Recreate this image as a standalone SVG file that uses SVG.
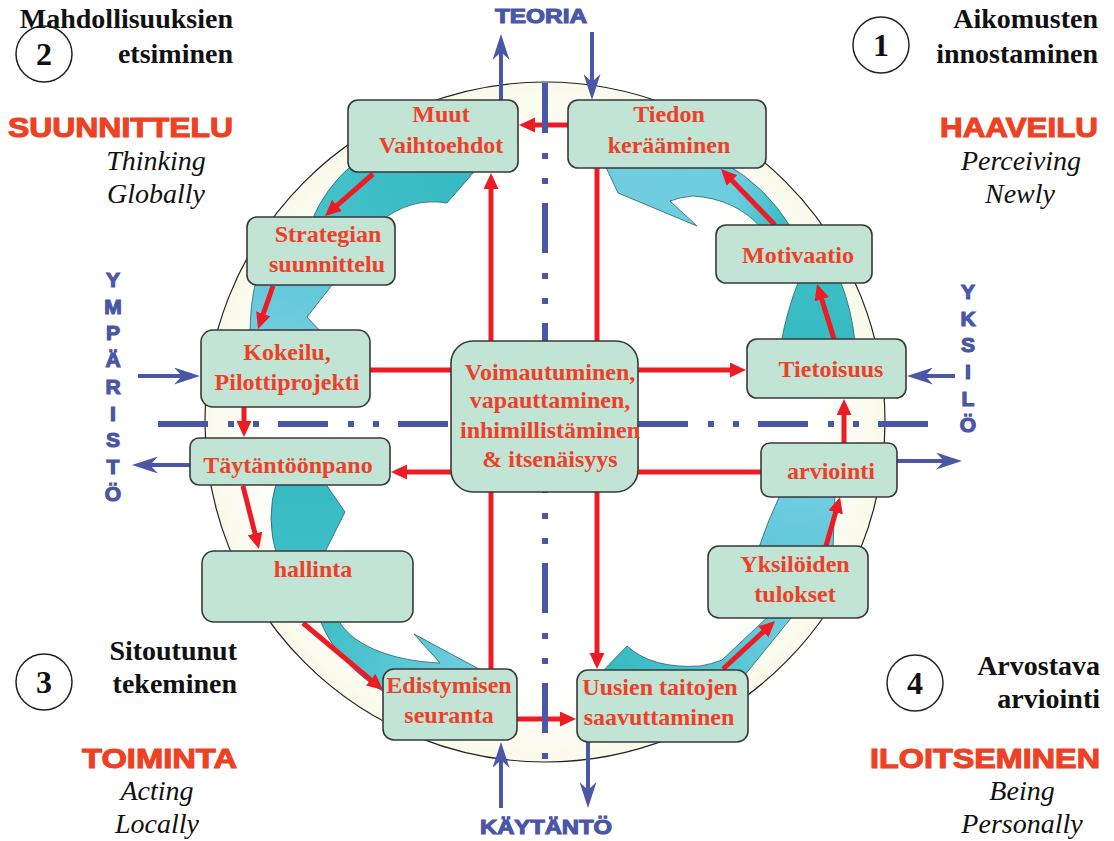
<svg xmlns="http://www.w3.org/2000/svg" width="1114" height="841" viewBox="0 0 1114 841">
<defs>
<radialGradient id="ring" cx="545" cy="422" r="340" gradientUnits="userSpaceOnUse">
<stop offset="0" stop-color="#ffffff"/><stop offset="0.8" stop-color="#ffffff"/><stop offset="1" stop-color="#fafaea"/>
</radialGradient>
<linearGradient id="gA1" gradientUnits="userSpaceOnUse" x1="460" y1="170" x2="320" y2="220"><stop offset="0" stop-color="#34bac1"/><stop offset="1" stop-color="#45c2cb"/></linearGradient>
<linearGradient id="gA2" gradientUnits="userSpaceOnUse" x1="290" y1="285" x2="280" y2="330"><stop offset="0" stop-color="#62c8da"/><stop offset="1" stop-color="#70cde0"/></linearGradient>
<linearGradient id="gB" gradientUnits="userSpaceOnUse" x1="300" y1="485" x2="300" y2="551"><stop offset="0" stop-color="#36bbc2"/><stop offset="1" stop-color="#3ebfc7"/></linearGradient>
<linearGradient id="gC" gradientUnits="userSpaceOnUse" x1="325" y1="622" x2="470" y2="672"><stop offset="0" stop-color="#3fbfc8"/><stop offset="1" stop-color="#70cde0"/></linearGradient>
<linearGradient id="gD1" gradientUnits="userSpaceOnUse" x1="610" y1="668" x2="790" y2="615"><stop offset="0" stop-color="#36bbc2"/><stop offset="1" stop-color="#6ccde0"/></linearGradient>
<linearGradient id="gD2" gradientUnits="userSpaceOnUse" x1="800" y1="546" x2="810" y2="497"><stop offset="0" stop-color="#62c8da"/><stop offset="1" stop-color="#70cde0"/></linearGradient>
<linearGradient id="gE1" gradientUnits="userSpaceOnUse" x1="815" y1="339" x2="815" y2="283"><stop offset="0" stop-color="#36bbc2"/><stop offset="1" stop-color="#3cbec6"/></linearGradient>
<linearGradient id="gE2" gradientUnits="userSpaceOnUse" x1="780" y1="225" x2="640" y2="175"><stop offset="0" stop-color="#3cbec6"/><stop offset="0.35" stop-color="#6ccde0"/><stop offset="1" stop-color="#70cde0"/></linearGradient>
<marker id="rh" markerUnits="userSpaceOnUse" markerWidth="16" markerHeight="16" refX="6" refY="7.5" orient="auto"><path d="M0,0 L16,7.5 L0,15 z" fill="#ed1c24"/></marker>
<marker id="bh" markerUnits="userSpaceOnUse" markerWidth="26" markerHeight="17" refX="12" refY="8.5" orient="auto"><path d="M0,0 L26,8.5 L0,17 L8,8.5 z" fill="#4a56a6"/></marker>
<style>
.box{fill:#c1e4d4;stroke:#383838;stroke-width:1.6}
.bt{font-family:'Liberation Serif','Times New Roman',serif;font-weight:bold;font-size:24px;fill:#ee4028;text-anchor:middle}
.red{fill:none;stroke:#ed1c24;stroke-width:5;marker-end:url(#rh)}
.blue{fill:none;stroke:#4a56a6;stroke-width:4;marker-end:url(#bh)}
.dd{fill:none;stroke:#4a56a6;stroke-width:6;stroke-dasharray:50 20 6 19 6 19}
.cy{stroke:#2d5f66;stroke-width:0.8}
.blk{font-family:'Liberation Serif','Times New Roman',serif;font-weight:bold;font-size:28px;fill:#111;text-anchor:end}
.hd{font-family:'Liberation Sans',Arial,sans-serif;font-weight:bold;font-size:28px;fill:#ee4123;stroke:#ee4123;stroke-width:1.1}
.it{font-family:'Liberation Serif','Times New Roman',serif;font-style:italic;font-size:28px;fill:#111;text-anchor:middle}
.lab{font-family:'Liberation Sans',Arial,sans-serif;font-weight:bold;font-size:20px;fill:#4a56a6;stroke:#4a56a6;stroke-width:1.1}
.vl{font-family:'Liberation Sans',Arial,sans-serif;font-weight:bold;font-size:21px;fill:#4a56a6;stroke:#4a56a6;stroke-width:1.2;text-anchor:middle}
.nc{fill:#fff;stroke:#222;stroke-width:1.5}
.num{font-family:'Liberation Serif','Times New Roman',serif;font-weight:bold;font-size:32px;fill:#111;text-anchor:middle}
</style>
</defs>
<rect width="1114" height="841" fill="#ffffff"/>

<g id="ring-circle">
<circle cx="545" cy="422" r="340" fill="url(#ring)" stroke="#222" stroke-width="1.2"/>
</g>

<g id="cycle-arrows">
<path class="cy" fill="url(#gA1)" d="M352,165 L480,165 L447,203 Q410,197 380,222 L311,222 Q325,188 352,165 Z"/>
<path class="cy" fill="url(#gA2)" d="M256,280 L336,280 L307,317 L324,335 L250,335 Q250,305 256,280 Z"/>
<path class="cy" fill="url(#gB)" d="M277,480 L323,480 L345,512 L323,556 L277,556 Q265,518 277,480 Z"/>
<path class="cy" fill="url(#gC)" d="M318,615 L336,615 C348,645 392,661 440,663 L414,634 L492,676 L384,692 C352,672 330,648 318,615 Z"/>
<path class="cy" fill="url(#gD1)" d="M598,676 L627,646 Q652,669 700,666 Q712,664 722,660 L773,612 L796,612 L744,676 Z"/>
<path class="cy" fill="url(#gD2)" d="M758,550 Q768,520 781,493 L835,493 Q834,520 833,550 Z"/>
<path class="cy" fill="url(#gE1)" d="M781,343 Q787,310 799,280 L840,280 Q852,310 855,343 Z"/>
<path class="cy" fill="url(#gE2)" d="M604,163 L724,163 Q765,185 792,229 L762,229 Q737,199 693,196 Q680,197 670,201 L697,226 L618,193 Z"/>
</g>

<g id="connectors">
<path class="red" d="M568,125 L529,125"/>
<path class="red" d="M373,174 L332.5,209.4"/>
<path class="red" d="M273,286 L261.3,319.5"/>
<path class="red" d="M244,407 L244,427"/>
<path class="red" d="M243,486 L256.5,539.3"/>
<path class="red" d="M303,623 L375.3,683.6"/>
<path class="red" d="M517,719 L566,719"/>
<path class="red" d="M723,669 L767.7,627.8"/>
<path class="red" d="M826,546 L837.3,506.6"/>
<path class="red" d="M844,443 L844,409"/>
<path class="red" d="M834,339 L820,293.6"/>
<path class="red" d="M775,225 L727.9,176.2"/>
<path class="red" d="M370,370 L736,370"/>
<path class="red" d="M761,472 L401,472"/>
<path class="red" d="M491,669 L491,183"/>
<path class="red" d="M597,168 L597,659"/>
<path class="dd" d="M545,83 L545,759"/>
<path class="dd" d="M158,424 L928,424"/>
<path class="blue" d="M501,100 L501,48"/>
<path class="blue" d="M592,32 L592,86"/>
<path class="blue" d="M138,376 L186,376"/>
<path class="blue" d="M190,465 L146,465"/>
<path class="blue" d="M955,376 L921,376"/>
<path class="blue" d="M897,461 L948,461"/>
<path class="blue" d="M501,808 L501,756"/>
<path class="blue" d="M588,742 L588,794"/>
</g>

<g id="n-muut"><rect class="box" x="348" y="100" width="170" height="72" rx="10"/><text class="bt" x="441" y="122">Muut</text><text class="bt" x="441" y="153">Vaihtoehdot</text></g>
<g id="n-tiedon"><rect class="box" x="568" y="100" width="198" height="68" rx="10"/><text class="bt" x="669" y="122">Tiedon</text><text class="bt" x="669" y="153">kerääminen</text></g>
<g id="n-strategian"><rect class="box" x="247" y="217" width="148" height="68" rx="10"/><text class="bt" x="328" y="242">Strategian</text><text class="bt" x="327" y="272">suunnittelu</text></g>
<g id="n-motivaatio"><rect class="box" x="716" y="225" width="156" height="58" rx="10"/><text class="bt" x="798" y="263">Motivaatio</text></g>
<g id="n-kokeilu"><rect class="box" x="201" y="330" width="169" height="77" rx="12"/><text class="bt" x="287" y="360">Kokeilu,</text><text class="bt" x="287" y="390">Pilottiprojekti</text></g>
<g id="n-tietoisuus"><rect class="box" x="747" y="339" width="159" height="59" rx="10"/><text class="bt" x="831" y="377">Tietoisuus</text></g>
<g id="n-center"><rect class="box" x="451" y="341" width="187" height="151" rx="22"/><text class="bt" x="550" y="380">Voimautuminen,</text><text class="bt" x="550" y="408">vapauttaminen,</text><text class="bt" x="550" y="438">inhimillistäminen</text><text class="bt" x="550" y="467">&amp; itsenäisyys</text></g>
<g id="n-taytantoonpano"><rect class="box" x="190" y="438" width="200" height="47" rx="9"/><text class="bt" x="288" y="473">Täytäntöönpano</text></g>
<g id="n-arviointi"><rect class="box" x="761" y="443" width="136" height="54" rx="9"/><text class="bt" x="831" y="479">arviointi</text></g>
<g id="n-hallinta"><rect class="box" x="202" y="551" width="211" height="71" rx="12"/><text class="bt" x="313" y="577">hallinta</text></g>
<g id="n-yksiloiden"><rect class="box" x="708" y="546" width="160" height="72" rx="11"/><text class="bt" x="795" y="572">Yksilöiden</text><text class="bt" x="795" y="602">tulokset</text></g>
<g id="n-edistymisen"><rect class="box" x="383" y="669" width="134" height="71" rx="11"/><text class="bt" x="449" y="693">Edistymisen</text><text class="bt" x="449" y="723">seuranta</text></g>
<g id="n-uusien"><rect class="box" x="577" y="670" width="171" height="72" rx="11"/><text class="bt" x="660" y="695">Uusien taitojen</text><text class="bt" x="659" y="725">saavuttaminen</text></g>

<g id="q2">
<circle class="nc" cx="44" cy="54" r="28"/><text class="num" x="44" y="65">2</text>
<text class="blk" x="233" y="28">Mahdollisuuksien</text><text class="blk" x="233" y="63">etsiminen</text>
<text class="hd" x="8" y="137" textLength="225" lengthAdjust="spacingAndGlyphs">SUUNNITTELU</text>
<text class="it" x="156" y="170">Thinking</text><text class="it" x="156" y="203">Globally</text>
</g>
<g id="q1">
<circle class="nc" cx="881" cy="45" r="28"/><text class="num" x="881" y="56">1</text>
<text class="blk" x="1098" y="28">Aikomusten</text><text class="blk" x="1098" y="63">innostaminen</text>
<text class="hd" x="940" y="137" textLength="158" lengthAdjust="spacingAndGlyphs">HAAVEILU</text>
<text class="it" x="1021" y="170">Perceiving</text><text class="it" x="1020" y="203">Newly</text>
</g>
<g id="q3">
<circle class="nc" cx="44" cy="682" r="28"/><text class="num" x="44" y="693">3</text>
<text class="blk" x="237" y="660">Sitoutunut</text><text class="blk" x="237" y="693">tekeminen</text>
<text class="hd" x="82" y="768" textLength="155" lengthAdjust="spacingAndGlyphs">TOIMINTA</text>
<text class="it" x="157" y="800">Acting</text><text class="it" x="157" y="833">Locally</text>
</g>
<g id="q4">
<circle class="nc" cx="915" cy="683" r="28"/><text class="num" x="915" y="694">4</text>
<text class="blk" x="1100" y="675">Arvostava</text><text class="blk" x="1100" y="708">arviointi</text>
<text class="hd" x="870" y="768" textLength="230" lengthAdjust="spacingAndGlyphs">ILOITSEMINEN</text>
<text class="it" x="1022" y="800">Being</text><text class="it" x="1022" y="833">Personally</text>
</g>

<g id="axis-labels">
<text class="lab" x="495" y="23" textLength="92" lengthAdjust="spacingAndGlyphs">TEORIA</text>
<text class="lab" x="480" y="834" textLength="132" lengthAdjust="spacingAndGlyphs">KÄYTÄNTÖ</text>
<text class="vl" x="113" y="287">Y</text><text class="vl" x="113" y="314">M</text><text class="vl" x="113" y="340">P</text><text class="vl" x="113" y="367">Ä</text><text class="vl" x="113" y="394">R</text><text class="vl" x="113" y="421">I</text><text class="vl" x="113" y="447">S</text><text class="vl" x="113" y="474">T</text><text class="vl" x="113" y="501">Ö</text>
<text class="vl" x="968" y="299">Y</text><text class="vl" x="968" y="326">K</text><text class="vl" x="968" y="352">S</text><text class="vl" x="968" y="379">I</text><text class="vl" x="968" y="406">L</text><text class="vl" x="968" y="432">Ö</text>
</g>
</svg>
